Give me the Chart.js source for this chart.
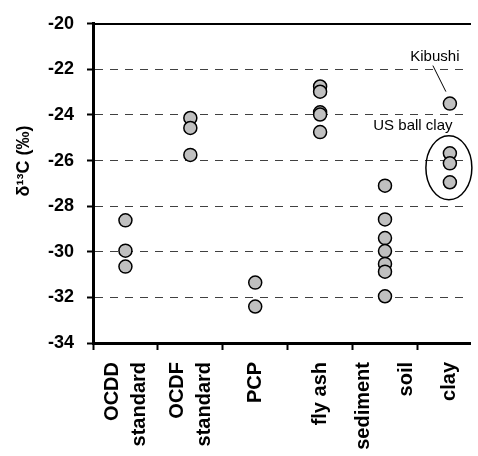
<!DOCTYPE html>
<html>
<head>
<meta charset="utf-8">
<script src="https://cdn.jsdelivr.net/npm/chart.js@4/dist/chart.umd.min.js"></script>
<style>
    html, body { margin: 0; padding: 0; background: #fff; }
    canvas { display: block; }
</style>
</head>
<body>
<canvas id="chart" width="478" height="456"></canvas>
<script>
const categories = [["OCDD", "standard"], ["OCDF", "standard"], "PCP", "fly ash", ["sediment", "soil"], "clay"];

const ocddStandard = [-28.62, -29.95, -30.65];
const ocdfStandard = [-24.13, -24.57, -25.75];
const pcp = [-31.35, -32.4];
const flyAsh = [-22.75, -22.98, -23.88, -23.98, -24.75];
const sedimentSoil = [-27.1, -28.58, -29.4, -29.97, -30.53, -30.87, -31.95];
const clay = [-23.5, -25.68, -26.12, -26.95]; // first one is Kibushi, rest US ball clay

const yTicks = [-34, -32, -30, -28, -26, -24, -22, -20];
const axisTitle = "δ¹³C (‰)";
const kibushiLabel = "Kibushi";
const ballClayLabel = "US ball clay";

const FONT = "'Liberation Sans', Arial, sans-serif";
Chart.defaults.font.family = FONT;

// label line spacing per category (sediment/soil is spread wider in the original)
const LABEL_SIZE = 20;
const labelLineHeights = [1.35, 1.35, 1.3, 1.3, 2.15, 1.3];
const PX_PER_CATEGORY = 66.3;

const series = [ocddStandard, ocdfStandard, pcp, flyAsh, sedimentSoil, clay];

const datasets = series.map((values, i) => ({
    data: values.map((v) => ({ x: i + 1, y: v })),
    backgroundColor: "#c0c0c0",
    borderColor: "#000",
    borderWidth: 1.5,
    pointRadius: 6.5
}));

// axis title, drawn by hand so it can sit a bit above the middle
const yTitle = {
    id: "yTitle",
    afterDraw(chart) {
        const ctx = chart.ctx;
        ctx.save();
        ctx.translate(24, 161);
        ctx.rotate(-Math.PI / 2);
        ctx.font = `bold 18px ${FONT}`;
        ctx.fillStyle = "#000";
        ctx.textAlign = "center";
        ctx.textBaseline = "middle";
        ctx.fillText(axisTitle, 0, 0);
        ctx.restore();
    }
};

// Kibushi callout and the ellipse round the US ball clay points
const clayNotes = {
    id: "clayNotes",
    afterDatasetsDraw(chart) {
        const { ctx, scales: { x, y } } = chart;
        const ballClay = clay.slice(1);
        const cx = x.getPixelForValue(categories.length);
        const ky = y.getPixelForValue(clay[0]);
        const ey = y.getPixelForValue((Math.max(...ballClay) + Math.min(...ballClay)) / 2);

        ctx.save();
        ctx.strokeStyle = "#000";
        ctx.lineWidth = 1.5;
        ctx.beginPath();
        ctx.ellipse(cx - 1, ey, 23, 32, 0, 0, Math.PI * 2);
        ctx.stroke();

        ctx.lineWidth = 1;
        ctx.beginPath();
        ctx.moveTo(cx - 17, ky - 38);
        ctx.lineTo(cx - 4, ky - 12);
        ctx.stroke();

        ctx.fillStyle = "#000";
        ctx.font = `15px ${FONT}`;
        ctx.textAlign = "center";
        ctx.textBaseline = "middle";
        ctx.fillText(kibushiLabel, cx - 15, ky - 47);
        ctx.fillText(ballClayLabel, cx - 37, ky + 22);
        ctx.restore();
    }
};

new Chart(document.getElementById("chart"), {
    type: "scatter",
    data: { datasets },
    options: {
        responsive: false,
        animation: false,
        devicePixelRatio: 1,
        layout: { padding: { top: 22, right: 0, bottom: 0, left: 0 } },
        plugins: { legend: { display: false }, tooltip: { enabled: false } },
        scales: {
            x: {
                type: "linear",
                position: "bottom",
                min: 0.5,
                max: 6.31,
                // even ticks: category borders (tick marks), odd ticks: category names
                afterBuildTicks: (scale) => {
                    const ticks = [];
                    categories.forEach((label, i) => {
                        const lines = Array.isArray(label) ? label.length : 1;
                        const shift = (lines - 1) * LABEL_SIZE * labelLineHeights[i] / 2 / PX_PER_CATEGORY;
                        ticks.push({ value: i + 0.5 }, { value: i + 1 - shift });
                    });
                    scale.ticks = ticks;
                },
                afterFit: (scale) => {
                    scale.height = 113;
                    scale.paddingLeft = 0;
                    scale.paddingRight = 0;
                },
                grid: {
                    drawOnChartArea: false,
                    tickLength: 7,
                    tickWidth: 2,
                    tickColor: (c) => (c.index % 2 === 0 ? "#000" : "rgba(0,0,0,0)")
                },
                border: { color: "#000", width: 3 },
                ticks: {
                    autoSkip: false,
                    minRotation: 90,
                    maxRotation: 90,
                    padding: 12,
                    color: "#000",
                    font: (c) => ({
                        size: LABEL_SIZE,
                        weight: "bold",
                        lineHeight: c.index % 2 === 1 ? labelLineHeights[(c.index - 1) / 2] : 1.3
                    }),
                    callback: (value, index) => (index % 2 === 1 ? categories[(index - 1) / 2] : "")
                }
            },
            x2: {
                type: "linear",
                position: "top",
                min: 0,
                max: 1,
                grid: { display: false, drawTicks: false },
                ticks: { display: false },
                border: { color: "#000", width: 2 },
                afterFit: (scale) => {
                    scale.height = 0;
                }
            },
            y: {
                min: -34,
                max: -20,
                afterBuildTicks: (scale) => {
                    scale.ticks = yTicks.map((v) => ({ value: v }));
                },
                afterFit: (scale) => {
                    scale.width = 93;
                },
                grid: {
                    color: (c) => (c.tick.value === -20 || c.tick.value === -34 ? "rgba(0,0,0,0)" : "#404040"),
                    lineWidth: 1,
                    tickLength: 6,
                    tickWidth: 2,
                    tickColor: "#000"
                },
                border: { color: "#000", width: 3, dash: [8, 7] },
                ticks: {
                    color: "#000",
                    padding: 13,
                    font: { size: 18, weight: "bold" }
                }
            }
        }
    },
    plugins: [yTitle, clayNotes]
});
</script>
</body>
</html>
